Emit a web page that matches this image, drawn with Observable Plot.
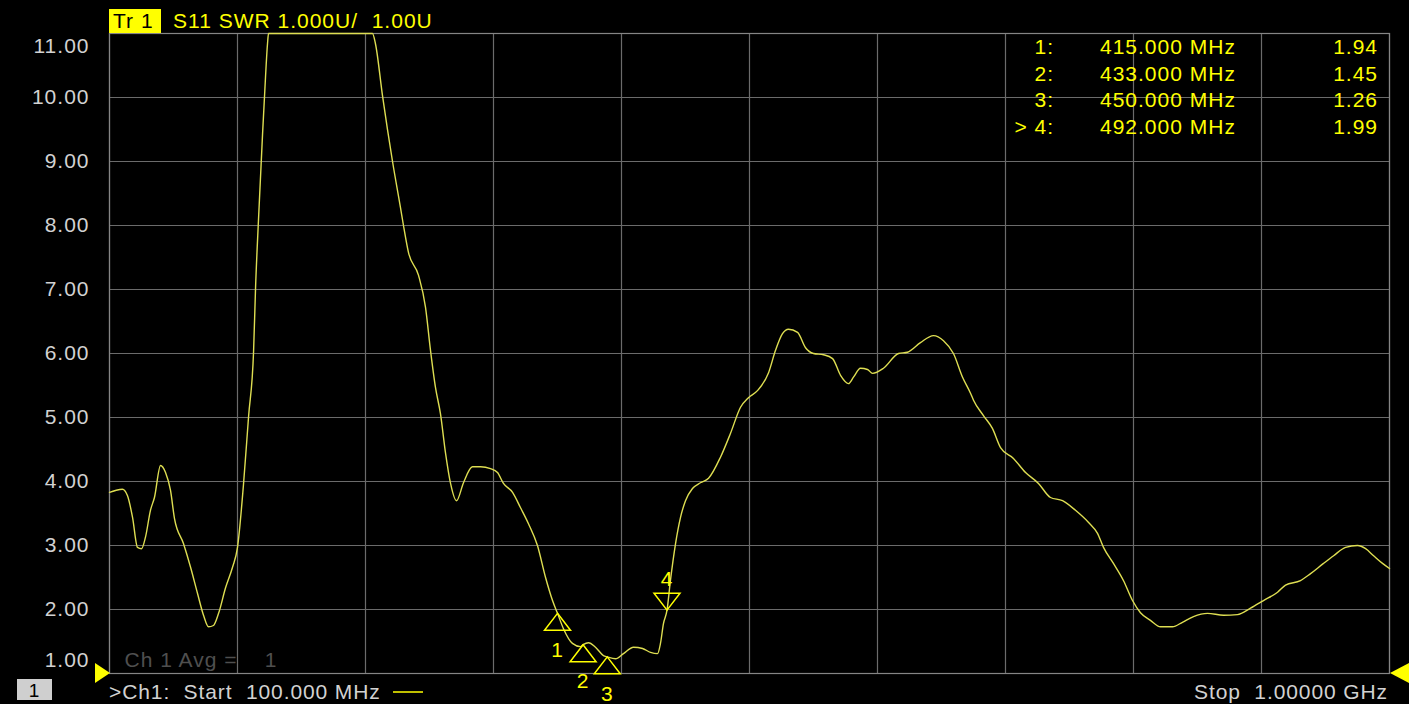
<!DOCTYPE html>
<html><head><meta charset="utf-8">
<script src="https://cdn.jsdelivr.net/npm/d3@7"></script>
<script src="https://cdn.jsdelivr.net/npm/@observablehq/plot@0.6"></script>
<style>
html,body{margin:0;padding:0;background:#000;overflow:hidden}
svg text{white-space:pre;letter-spacing:1px}
</style>
</head><body><div id="chart"></div>
<script>
// Trace: S11 SWR vs frequency (MHz)
const freqMHz = [100.0,104.2,109.1,112.6,116.2,119.7,122.5,125.3,128.8,131.6,135.9,139.4,142.9,145.7,152.0,157.0,161.9,166.1,169.6,173.1,176.7,181.6,186.5,190.0,194.2,197.8,201.3,202.7,204.8,207.6,209.0,211.1,211.8,284.9,287.0,292.0,299.0,304.6,306.7,310.2,317.3,322.2,325.7,329.2,332.7,336.3,339.8,344.0,348.9,355.2,360.9,367.9,372.8,377.0,383.4,389.0,394.6,400.9,406.6,411.5,415.0,419.2,425.5,431.1,433.0,436.8,441.7,447.3,450.0,455.8,461.4,468.4,474.8,480.4,485.3,487.4,489.5,492.0,494.4,498.0,501.5,505.0,509.9,515.5,521.2,529.6,536.6,543.7,549.3,555.6,563.4,568.3,573.2,577.4,583.8,589.4,595.0,602.0,608.4,614.0,619.6,623.1,628.0,633.0,636.5,644.2,654.8,661.1,670.2,679.4,686.4,693.4,699.8,705.4,707.5,714.5,720.8,726.5,735.6,744.1,753.2,761.6,770.1,779.2,788.4,794.7,798.9,805.9,813.0,819.3,824.9,831.9,839.0,847.4,854.4,862.2,872.0,883.3,893.1,902.3,911.4,921.3,926.9,937.4,944.5,953.6,960.7,969.1,977.5,983.2,988.8,995.1,1000.0];
const swrValues = [3.83,3.86,3.88,3.78,3.44,2.97,2.95,3.13,3.55,3.75,4.25,4.14,3.86,3.42,3.03,2.66,2.25,1.91,1.73,1.75,1.94,2.34,2.66,2.97,3.95,5.02,6.03,7.03,8.11,9.42,10.02,10.84,11.0,11.0,10.84,10.02,9.0,8.28,8.0,7.58,7.22,6.72,6.05,5.47,5.06,4.44,3.97,3.70,3.98,4.23,4.23,4.20,4.14,3.97,3.83,3.59,3.34,3.00,2.50,2.14,1.94,1.70,1.47,1.42,1.45,1.48,1.41,1.28,1.26,1.23,1.31,1.41,1.39,1.33,1.31,1.47,1.78,1.99,2.45,3.03,3.44,3.70,3.89,3.98,4.05,4.38,4.75,5.16,5.31,5.42,5.70,6.05,6.31,6.38,6.33,6.09,6.00,5.98,5.92,5.66,5.53,5.63,5.77,5.75,5.69,5.77,6.00,6.02,6.17,6.28,6.20,6.00,5.63,5.38,5.27,5.03,4.83,4.53,4.36,4.14,3.97,3.75,3.70,3.55,3.36,3.19,2.97,2.72,2.45,2.14,1.95,1.83,1.73,1.73,1.80,1.89,1.94,1.91,1.92,2.02,2.14,2.27,2.38,2.45,2.56,2.72,2.84,2.97,3.00,2.95,2.84,2.72,2.64];

// Markers
const markerIds = [1, 2, 3, 4];
const markerFreqs = [415, 433, 450, 492];
const markerValues = [1.94, 1.45, 1.26, 1.99];
const activeMarker = 4;

// Axes / grid
const yTicks = [1, 2, 3, 4, 5, 6, 7, 8, 9, 10, 11];
const xGridMHz = [100, 190, 280, 370, 460, 550, 640, 730, 820, 910, 1000];

// Texts
const traceTag = "Tr 1";
const traceTitle = "S11 SWR 1.000U/  1.00U";
const avgText = "Ch 1 Avg =    1";
const startText = ">Ch1:  Start  100.000 MHz";
const stopText = "Stop  1.00000 GHz";
const channelTag = "1";

const trace = freqMHz.map((f, i) => ({f, v: swrValues[i]}));
const markers = markerIds.map((id, i) => ({id, f: markerFreqs[i], v: markerValues[i], active: id === activeMarker}));

const YEL = "#ffff00";
const TRACE = "#dede52";
const GRID = "#6b6b6b";
const LABEL = "#d2d2d2";
const FONT = "Liberation Sans, Arial, sans-serif";

const triUp = {draw(ctx) { ctx.moveTo(0, 0); ctx.lineTo(-13, 17); ctx.lineTo(13, 17); ctx.closePath(); }};
const triDown = {draw(ctx) { ctx.moveTo(0, 0); ctx.lineTo(-13, -17); ctx.lineTo(13, -17); ctx.closePath(); }};

const plot = Plot.plot({
  width: 1409, height: 704,
  marginLeft: 109, marginRight: 20, marginTop: 33, marginBottom: 31,
  style: {background: "#000", color: LABEL, fontFamily: FONT},
  x: {domain: [100, 1000], axis: null},
  y: {domain: [1, 11], axis: null},
  marks: [
    Plot.gridX(xGridMHz, {stroke: GRID, strokeOpacity: 1, strokeWidth: 1.2}),
    Plot.gridY(yTicks, {stroke: GRID, strokeOpacity: 1, strokeWidth: 1.2}),
    Plot.frame({stroke: "#858585", strokeWidth: 1.2}),
    Plot.text(yTicks.filter(d => d > 1 && d < 11), {y: d => d, frameAnchor: "left", dx: -20, textAnchor: "end", text: d => d.toFixed(2), fontSize: 21, fill: LABEL}),
    Plot.text(yTicks.filter(d => d === 11), {y: d => d, frameAnchor: "left", dx: -20, dy: 13, textAnchor: "end", text: d => d.toFixed(2), fontSize: 21, fill: LABEL}),
    Plot.text(yTicks.filter(d => d === 1), {y: d => d, frameAnchor: "left", dx: -20, dy: -13, textAnchor: "end", text: d => d.toFixed(2), fontSize: 21, fill: LABEL}),
    Plot.text([avgText], {frameAnchor: "bottom-left", dx: 15, dy: -13, text: d => d, textAnchor: "start", lineAnchor: "middle", fontSize: 21, fill: "#4f4f4f"}),
    Plot.line(trace, {x: "f", y: "v", stroke: TRACE, strokeWidth: 1.4, curve: "monotone-x"}),
    Plot.dot(markers.filter(d => !d.active), {x: "f", y: "v", symbol: triUp, fill: "none", stroke: YEL, strokeWidth: 1.5}),
    Plot.dot(markers.filter(d => d.active), {x: "f", y: "v", symbol: triDown, fill: "none", stroke: YEL, strokeWidth: 1.5}),
    Plot.text(markers.filter(d => !d.active), {x: "f", y: "v", text: d => String(d.id), dy: 37, fontSize: 21, fill: YEL}),
    Plot.text(markers.filter(d => d.active), {x: "f", y: "v", text: d => String(d.id), dy: -31, fontSize: 21, fill: YEL})
  ]
});

document.getElementById("chart").appendChild(plot);

// Instrument chrome (header, marker table, footer) drawn on top
const svg = d3.select(plot);
const g = svg.append("g").attr("font-family", FONT).attr("font-size", 21).attr("text-anchor", "start");
g.append("rect").attr("x", 109).attr("y", 9).attr("width", 52).attr("height", 24).attr("fill", YEL);
g.append("text").attr("x", 113).attr("y", 28).attr("fill", "#000").text(traceTag);
g.append("text").attr("x", 173).attr("y", 28).attr("fill", YEL).text(traceTitle);

// Marker table
markers.forEach((m, i) => {
  const y = 54 + i * 26.7;
  g.append("text").attr("x", 1054).attr("y", y).attr("text-anchor", "end").attr("fill", YEL)
    .text((m.active ? "> " : "") + m.id + ":");
  g.append("text").attr("x", 1100).attr("y", y).attr("text-anchor", "start").attr("fill", YEL).text(m.f.toFixed(3) + " MHz");
  g.append("text").attr("x", 1378).attr("y", y).attr("text-anchor", "end").attr("fill", YEL).text(m.v.toFixed(2));
});

// Reference-level triangles
g.append("path").attr("d", "M95,663 L110,673 L95,683 Z").attr("fill", YEL);
g.append("path").attr("d", "M1409,663 L1390,673 L1409,683 Z").attr("fill", YEL);

// Footer
g.append("rect").attr("x", 17).attr("y", 679).attr("width", 35).attr("height", 21).attr("fill", "#cfcfcf");
g.append("text").attr("x", 34.5).attr("y", 697).attr("text-anchor", "middle").attr("fill", "#000").attr("font-size", 19).text(channelTag);
g.append("text").attr("x", 109).attr("y", 699).attr("fill", LABEL).attr("font-size", 21).style("letter-spacing", "0.9px").text(startText);
g.append("line").attr("x1", 393).attr("x2", 423).attr("y1", 692).attr("y2", 692).attr("stroke", YEL).attr("stroke-width", 1.5);
g.append("text").attr("x", 1388).attr("y", 699).attr("text-anchor", "end").attr("fill", LABEL).attr("font-size", 21).style("letter-spacing", "0.9px").text(stopText);
</script>
</body></html>
